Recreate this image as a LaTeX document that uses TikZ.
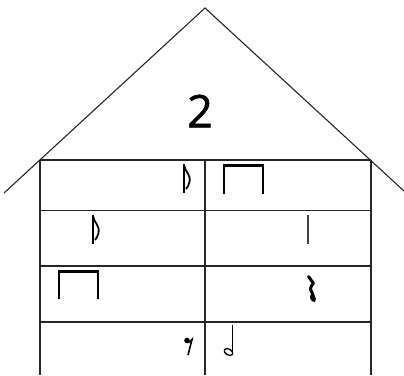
\documentclass[tikz,border=0pt]{standalone}
\usepackage{fontspec}
\newfontfamily\numfont[FakeBold=1.2]{Open Sans}
\begin{document}
\begin{tikzpicture}[x=1pt,y=-1pt,
  wall/.style={line width=1.1pt,draw=black!85},
  stem/.style={line width=1.4pt,line cap=butt},
  flag/.style={line width=1.8pt},
  beam/.style={line width=3pt}]
\useasboundingbox (0,0) rectangle (404,375);
% house
\coordinate (apex) at (205,8);
\coordinate (rl) at (4,193);
\coordinate (rr) at (404,191);
\coordinate (tl) at (40,160);
\coordinate (tr) at (371,160);
\coordinate (bl) at (40,375);
\coordinate (br) at (371,375);
\coordinate (tm) at (205,160);
\coordinate (bm) at (205,375);
\draw[wall] (rl) -- (apex) -- (rr);
\draw[wall] (tl) -- (tr);
\draw[wall] (tl) -- (bl);
\draw[wall] (tr) -- (br);
\draw[wall] (tm) -- (bm);
\draw[wall] (40,210.5) -- (371,210.5);
\draw[wall] (40,266) -- (371,266);
\draw[wall] (40,322) -- (371,322);
\node[font=\numfont\fontsize{45}{45}\selectfont,inner sep=0pt] (num) at (200,111) {2};
% row 1 left: eighth note
\draw[stem] (184,164) -- (184,193);
\draw[flag] (184,165) .. controls (185,172) and (191,174) .. (189.5,182) .. controls (189,185) and (187.5,187) .. (186,189);
% row 1 right: beamed pair
\draw[stem] (224,164) -- (224,194);
\draw[stem] (263,164) -- (263,194);
\draw[beam] (223.3,165.5) -- (263.7,165.5);
% row 2 left: eighth note
\draw[stem] (93,215) -- (93,244);
\draw[flag] (93,216) .. controls (94,223) and (100,225) .. (98.5,233) .. controls (98,236) and (96.5,238) .. (95,240);
% row 2 right: stem
\draw[stem,line width=1.6pt,draw=black!75] (308,215) -- (308,244);
% row 3 left: beamed pair
\draw[stem] (59,270) -- (59,299);
\draw[stem] (98,270) -- (98,299);
\draw[beam] (58.3,271.5) -- (98.7,271.5);
% row 3 right: quarter rest
\draw[line width=3pt,line join=round,line cap=round] (308.5,276.5) -- (313.5,283.5) .. controls (310.5,286.5) and (309.5,289) .. (312,292.5) -- (314.5,299.5);
\fill (315,302) .. controls (311,302) and (308.5,298) .. (311,294) -- (315.5,299) -- cycle;
% row 4 left: eighth rest
\fill (187,340.5) circle (2.8);
\draw[line width=1.6pt] (187,342.5) .. controls (189,343) and (191,341) .. (192,339.5) -- (188,355);
% row 4 right: half note
\draw[line width=1.3pt,rotate around={-30:(228.5,352)}] (228.5,352) ellipse (4.6 and 3);
\draw[stem,line width=1.3pt] (232.3,325) -- (232.3,350.5);
\end{tikzpicture}
\end{document}
